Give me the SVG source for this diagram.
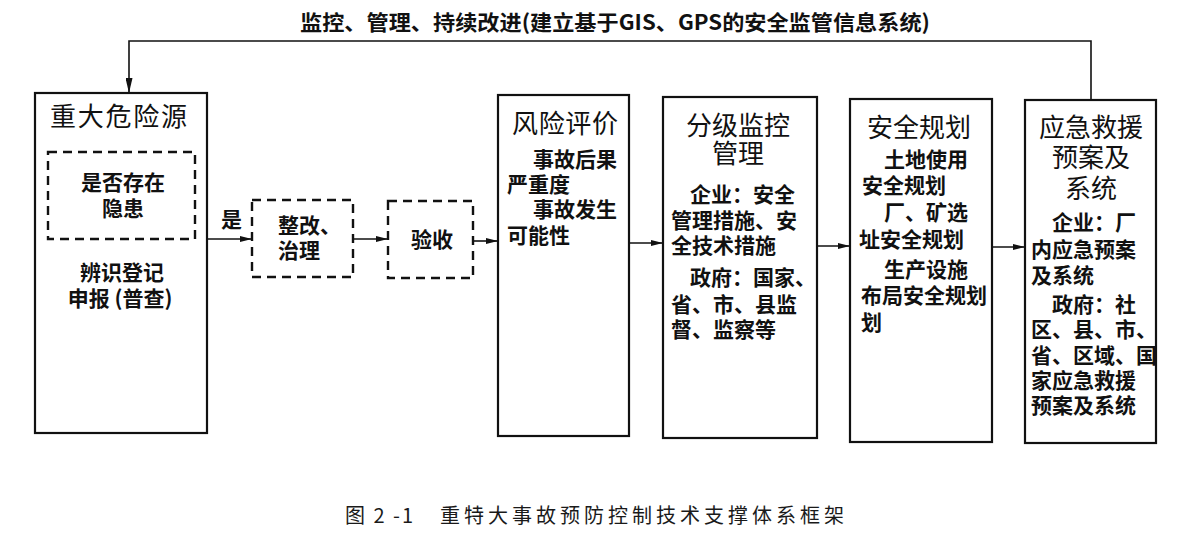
<svg xmlns="http://www.w3.org/2000/svg" width="1181" height="539" viewBox="0 0 1181 539">
<style>
.box{fill:none;stroke:#111;stroke-width:2.2}
.dash{fill:none;stroke:#111;stroke-width:2.4;stroke-dasharray:9 6}
.con{fill:none;stroke:#111;stroke-width:1.6}
.t{font-family:"Noto Sans CJK SC","Liberation Sans",sans-serif;font-size:26px;font-weight:400;fill:#111}
.b{font-family:"Noto Sans CJK SC","Liberation Sans",sans-serif;font-size:21px;font-weight:700;fill:#111}
.cap{font-family:"Noto Sans CJK SC","Liberation Serif",serif;font-size:20px;font-weight:400;fill:#1a1a1a}
</style>
<defs>
<marker id="ah" viewBox="0 0 12 6" refX="12" refY="3" markerWidth="12" markerHeight="6" markerUnits="userSpaceOnUse" orient="auto">
<path d="M0,0 L12,3 L0,6 z" fill="#111"/>
</marker>
<marker id="ahv" viewBox="0 0 15 7" refX="15" refY="3.5" markerWidth="15" markerHeight="7" markerUnits="userSpaceOnUse" orient="auto">
<path d="M0,0 L15,3.5 L0,7 z" fill="#111"/>
</marker>
</defs>
<rect width="1181" height="539" fill="#fff"/>

<g id="connectors">
<path class="con" d="M1091,100 V41 H129 V93" marker-end="url(#ahv)"/>
<line class="con" x1="207" y1="239" x2="252" y2="239" marker-end="url(#ah)"/>
<line class="con" x1="353" y1="239" x2="388" y2="239" marker-end="url(#ah)"/>
<line class="con" x1="473" y1="241" x2="498" y2="241" marker-end="url(#ah)"/>
<line class="con" x1="629" y1="243" x2="663" y2="243" marker-end="url(#ah)"/>
<line class="con" x1="817" y1="246" x2="850" y2="246" marker-end="url(#ah)"/>
<line class="con" x1="992" y1="247" x2="1025" y2="247" marker-end="url(#ah)"/>
<text class="b" x="300" y="30" textLength="630" lengthAdjust="spacingAndGlyphs">监控、管理、持续改进(建立基于GIS、GPS的安全监管信息系统)</text>
<text class="b" x="221" y="227">是</text>
</g>

<g id="hazard">
<rect class="box" x="35" y="93" width="172" height="340"/>
<text class="t" x="50" y="126" textLength="137">重大危险源</text>
<text class="b" text-anchor="middle"><tspan x="122" y="280">辨识登记</tspan><tspan x="120" y="306">申报 (普查)</tspan></text>
</g>

<g id="hidden-danger">
<rect class="dash" x="48" y="152" width="147" height="87"/>
<text class="b" text-anchor="middle"><tspan x="123" y="190">是否存在</tspan><tspan x="123" y="216">隐患</tspan></text>
</g>

<g id="rectify">
<rect class="dash" x="252" y="200" width="101" height="77"/>
<text class="b"><tspan x="278" y="233">整改、</tspan><tspan x="278" y="258">治理</tspan></text>
</g>

<g id="accept">
<rect class="dash" x="388" y="201" width="85" height="77"/>
<text class="b" x="432" y="247" text-anchor="middle">验收</text>
</g>

<g id="risk">
<rect class="box" x="498" y="95" width="131" height="341"/>
<text class="t" x="512" y="133" textLength="106">风险评价</text>
<text class="b"><tspan x="533" y="167">事故后果</tspan><tspan x="507" y="192">严重度</tspan><tspan x="533" y="217">事故发生</tspan><tspan x="507" y="243">可能性</tspan></text>
</g>

<g id="grading">
<rect class="box" x="663" y="97" width="154" height="341"/>
<text class="t" text-anchor="middle"><tspan x="738" y="135">分级监控</tspan><tspan x="738" y="163">管理</tspan></text>
<text class="b"><tspan x="690" y="202">企业：安全</tspan><tspan x="671" y="228">管理措施、安</tspan><tspan x="671" y="253">全技术措施</tspan><tspan x="690" y="285">政府：国家、</tspan><tspan x="671" y="312">省、市、县监</tspan><tspan x="671" y="337">督、监察等</tspan></text>
</g>

<g id="planning">
<rect class="box" x="850" y="99" width="142" height="343"/>
<text class="t" x="919" y="137" text-anchor="middle">安全规划</text>
<text class="b"><tspan x="884" y="167">土地使用</tspan><tspan x="862" y="193">安全规划</tspan><tspan x="884" y="220">厂、矿选</tspan><tspan x="859" y="247">址安全规划</tspan><tspan x="884" y="277">生产设施</tspan><tspan x="861" y="303">布局安全规划</tspan><tspan x="861" y="330">划</tspan></text>
</g>

<g id="emergency">
<rect class="box" x="1025" y="100" width="131" height="343"/>
<text class="t" text-anchor="middle"><tspan x="1091" y="137">应急救援</tspan><tspan x="1091" y="167">预案及</tspan><tspan x="1091" y="198">系统</tspan></text>
<text class="b"><tspan x="1052" y="230">企业：厂</tspan><tspan x="1031" y="257">内应急预案</tspan><tspan x="1031" y="283">及系统</tspan><tspan x="1052" y="312">政府：社</tspan><tspan x="1031" y="337">区、县、市、</tspan><tspan x="1031" y="363">省、区域、国</tspan><tspan x="1031" y="388">家应急救援</tspan><tspan x="1031" y="413">预案及系统</tspan></text>
</g>

<g id="caption">
<text class="cap" x="345" y="523" letter-spacing="2">图 2 -1</text>
<text class="cap" x="440" y="523" letter-spacing="4">重特大事故预防控制技术支撑体系框架</text>
</g>
</svg>
